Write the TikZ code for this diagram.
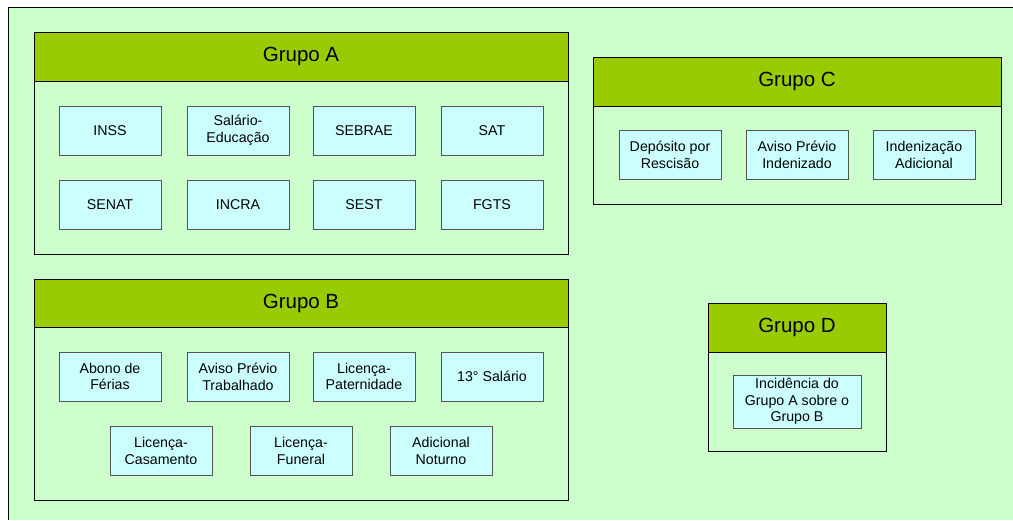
\documentclass[tikz,border=0pt]{standalone}
\usepackage{fontspec}
\setmainfont{Liberation Sans}
\definecolor{bggreen}{HTML}{CCFFCC}
\definecolor{hdrgreen}{HTML}{99CC00}
\definecolor{itemfill}{HTML}{CCFFFF}
\definecolor{itemline}{HTML}{555555}
\tikzset{
  grp/.style={draw=black, line width=0.9pt, fill=bggreen},
  hdr/.style={draw=black, line width=0.9pt, fill=hdrgreen},
  hdrtext/.style={font=\fontsize{20.5}{24}\selectfont},
  item/.style={draw=itemline, line width=1pt, fill=itemfill, minimum width=102pt, minimum height=49pt, inner sep=0pt, align=center, font=\fontsize{14.2}{16.7}\selectfont},
}
\begin{document}
\begin{tikzpicture}[x=1pt,y=-1pt]
\useasboundingbox (0,0) rectangle (1013,520);
\fill[bggreen] (8,7) rectangle (1013,520);
\draw[black, line width=0.9pt] (8,520) -- (8,7) -- (1013,7);
% Grupo A
\draw[grp] (34,32) rectangle (568,254);
\draw[hdr] (34,32) rectangle (568,81);
\node[hdrtext] (ha) at (301,56.5) {Grupo A};
\node[item] (inss) at (110,130.5) {INSS};
\node[item] (sal) at (238,130.5) {Salário-\\Educação};
\node[item] (sebrae) at (364,130.5) {SEBRAE};
\node[item] (sat) at (492,130.5) {SAT};
\node[item] (senat) at (110,204.5) {SENAT};
\node[item] (incra) at (238,204.5) {INCRA};
\node[item] (sest) at (364,204.5) {SEST};
\node[item] (fgts) at (492,204.5) {FGTS};
% Grupo B
\draw[grp] (34,279) rectangle (568,500);
\draw[hdr] (34,279) rectangle (568,327);
\node[hdrtext] (hb) at (301,303) {Grupo B};
\node[item] (abono) at (110,376.5) {Abono de\\Férias};
\node[item] (avtrab) at (238,376.5) {Aviso Prévio\\Trabalhado};
\node[item] (licpat) at (364,376.5) {Licença-\\Paternidade};
\node[item] (dec) at (492,376.5) {13° Salário};
\node[item] (liccas) at (161,451) {Licença-\\Casamento};
\node[item] (licfun) at (301,451) {Licença-\\Funeral};
\node[item] (adnot) at (441,451) {Adicional\\Noturno};
% Grupo C
\draw[grp] (593,57) rectangle (1001,204);
\draw[hdr] (593,57) rectangle (1001,106);
\node[hdrtext] (hc) at (797,81.5) {Grupo C};
\node[item] (dep) at (670,155) {Depósito por\\Rescisão};
\node[item] (avind) at (797,155) {Aviso Prévio\\Indenizado};
\node[item] (indad) at (924,155) {Indenização\\Adicional};
% Grupo D
\draw[grp] (708,303) rectangle (886,451);
\draw[hdr] (708,303) rectangle (886,352);
\node[hdrtext] (hd) at (797,327.5) {Grupo D};
\node[item, minimum width=128pt, minimum height=53pt] (inc) at (797,401.5) {Incidência do\\Grupo A sobre o\\Grupo B};
\end{tikzpicture}
\end{document}
